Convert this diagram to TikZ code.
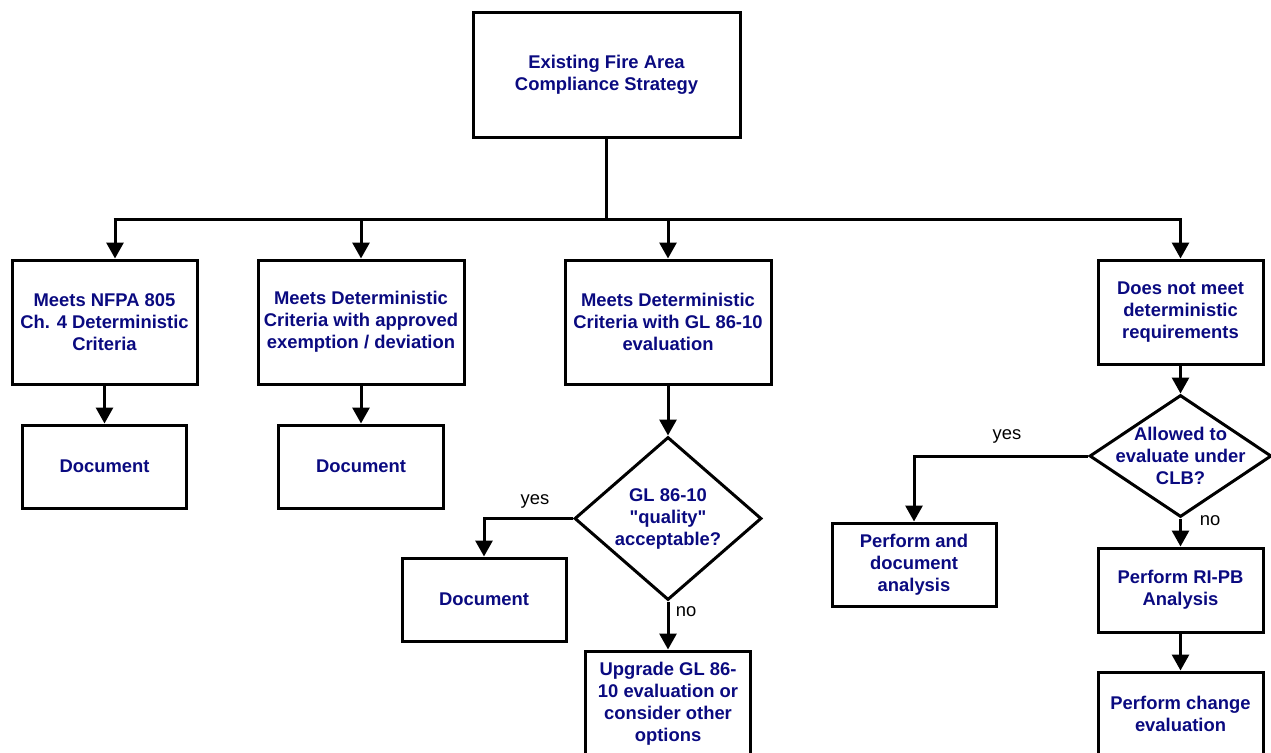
\documentclass[tikz,border=0pt]{standalone}
\usepackage{fontspec}
\setmainfont{Liberation Sans}[Ligatures=TeXOff]
\usetikzlibrary{arrows.meta,shapes.geometric}
\definecolor{navy}{RGB}{10,10,128}
\tikzset{
  box/.style={draw=black, line width=3pt, rectangle, inner sep=0pt, align=center,
    text=navy, font=\bfseries\fontsize{18.4}{22}\selectfont},
  dia/.style={draw=black, line width=3pt, diamond, inner sep=0pt},
  dtxt/.style={align=center, text=navy, font=\bfseries\fontsize{18.4}{22}\selectfont, inner sep=0pt},
  lbl/.style={text=black, font=\fontsize{18.4}{22}\selectfont, inner sep=0pt},
  con/.style={line width=3pt},
  arr/.style={line width=3pt, -{Triangle[length=16pt,width=17pt]}}
}
\begin{document}
\begin{tikzpicture}[x=1pt,y=-1pt]
\useasboundingbox (0,0) rectangle (1271,752);
% boxes
\node[box, minimum width=267, minimum height=124] (top) at (606.5,75) {Existing Fire Area\\Compliance Strategy};
\node[box, minimum width=185, minimum height=124] (b1) at (104.5,322) {Meets NFPA 805\\Ch. 4 Deterministic\\Criteria};
\node[box, minimum width=206, minimum height=124] (b2) at (361,322) {Meets Deterministic\\Criteria with approved\\exemption / deviation};
\node[box, minimum width=206, minimum height=124] (b3) at (668,322) {Meets Deterministic\\Criteria with GL 86-10\\evaluation};
\node[box, minimum width=165, minimum height=104] (b4) at (1180.5,312) {Does not meet\\deterministic\\requirements};
\node[box, minimum width=164, minimum height=83] (doc1) at (104.5,466.5) {Document};
\node[box, minimum width=165, minimum height=83] (doc2) at (361,466.5) {Document};
\node[box, minimum width=164, minimum height=83] (doc3) at (484,599.5) {Document};
\node[box, minimum width=165, minimum height=105] (up) at (668,703.5) {Upgrade GL 86-\\10 evaluation or\\consider other\\options};
\node[box, minimum width=164, minimum height=83] (pda) at (914,564.5) {Perform and\\document\\analysis};
\node[box, minimum width=165, minimum height=84] (ri) at (1180.5,590) {Perform RI-PB\\Analysis};
\node[box, minimum width=165, minimum height=84] (pc) at (1180.5,714) {Perform change\\evaluation};
% diamonds
\node[dia, minimum width=187, minimum height=163] (d1) at (668,518.5) {};
\node[dtxt] at (d1.center) {GL 86-10\\"quality"\\acceptable?};
\node[dia, minimum width=182, minimum height=122] (d2) at (1180.5,456) {};
\node[dtxt] at (d2.center) {Allowed to\\evaluate under\\CLB?};
% junctions
\coordinate (j1) at (115,219);
\coordinate (j2) at (361,219);
\coordinate (j3) at (668,219);
\coordinate (j4) at (1180.5,219);
% connectors
\draw[con] (top.south) -- (top.south |- j1);
\draw[con] ([xshift=-1.5pt]j1) -- ([xshift=1.5pt]j4);
\draw[arr] (j1) -- (j1 |- b1.north);
\draw[arr] (j2) -- (j2 |- b2.north);
\draw[arr] (j3) -- (j3 |- b3.north);
\draw[arr] (j4) -- (j4 |- b4.north);
\draw[arr] (b1.south) -- (doc1.north);
\draw[arr] (b2.south) -- (doc2.north);
\draw[arr] (b3.south) -- (d1.north);
\draw[arr] (d1.west) -| (doc3.north);
\draw[arr] (d1.south) -- (up.north);
\draw[arr] (b4.south) -- (d2.north);
\draw[arr] (d2.west) -| (pda.north);
\draw[arr] (d2.south) -- (ri.north);
\draw[arr] (ri.south) -- (pc.north);
% labels
\node[lbl] (l1) at (535,501) {yes};
\node[lbl] (l2) at (686,612) {no};
\node[lbl] (l3) at (1007,436) {yes};
\node[lbl] (l4) at (1210,521) {no};
\end{tikzpicture}
\end{document}
